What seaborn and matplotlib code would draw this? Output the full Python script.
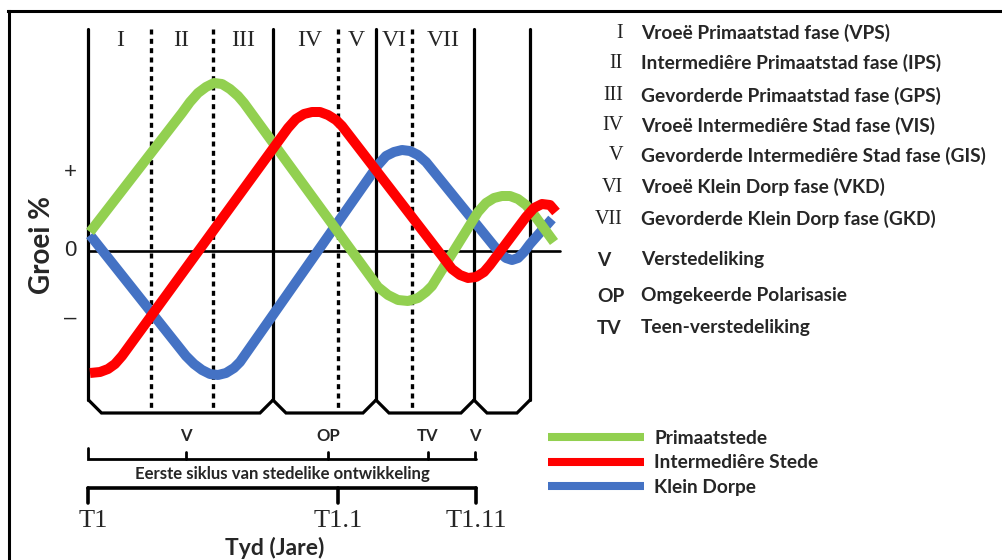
import numpy as np
import pandas as pd
import matplotlib
matplotlib.use("Agg")
import matplotlib.pyplot as plt
from matplotlib.lines import Line2D
import seaborn as sns

# ---------------- data ----------------
series_names = ["Primaatstede", "Intermediêre Stede", "Klein Dorpe"]
series_colors = ["#92D050", "#FF0000", "#4472C4"]

# time (arbitrary units) and growth (arbitrary units, 0 = no growth)
prim_t = [0, 92, 100, 108, 116, 124, 132, 140, 148, 154, 288, 298, 308, 318, 328, 336, 342,
          388, 396, 404, 412, 420, 428, 436, 442, 464]
prim_g = [19, 138, 149, 158, 164, 168, 167, 162, 155, 148, -36, -44, -49, -50, -47, -41, -35,
          39, 48, 53, 55, 55, 52, 46, 39, 9]

inter_t = [0, 10, 18, 25, 32, 198, 206, 214, 222, 230, 238, 246, 252, 362, 370, 378, 386, 394,
           400, 436, 444, 452, 460, 466]
inter_g = [-122, -121, -118, -113, -105, 123, 132, 137, 139, 139, 136, 131, 125, -18, -24, -27,
           -26, -21, -14, 34, 43, 47, 46, 39]

klein_t = [0, 96, 104, 112, 120, 128, 136, 144, 150, 288, 296, 304, 312, 320, 328, 336, 404,
           410, 416, 422, 428, 434, 440, 462]
klein_g = [16, -105, -113, -119, -123, -124, -122, -117, -111, 86, 95, 99, 101, 100, 96, 89, 5,
           -2, -7, -9, -7, -1, 7, 32]

phase_numerals = ["I", "II", "III", "IV", "V", "VI", "VII"]
phase_names = ["Vroeë Primaatstad fase (VPS)",
               "Intermediêre Primaatstad fase (IPS)",
               "Gevorderde Primaatstad fase (GPS)",
               "Vroeë Intermediêre Stad fase (VIS)",
               "Gevorderde Intermediêre Stad fase (GIS)",
               "Vroeë Klein Dorp fase (VKD)",
               "Gevorderde Klein Dorp fase (GKD)"]
process_abbr = ["V", "OP", "TV"]
process_names = ["Verstedeliking", "Omgekeerde Polarisasie", "Teen-verstedeliking"]
cycle_marks = ["V", "OP", "TV", "V"]
time_labels = ["T1", "T1.1", "T1.11"]
y_marks = ["+", "0", "–"]
cycle_text = "Eerste siklus van stedelike ontwikkeling"
x_title = "Tyd (Jare)"
y_title = "Groei %"

# ---------------- layout (positions) ----------------
solid_bounds = [-1.5, 183, 286, 384, 440]
dotted_bounds = [61, 123, 248, 322]
numeral_x = [30, 91, 153, 220, 266, 304, 353]
cycle_mark_x = [96, 238, 338, 385]
time_x = [3, 248, 386]
time_tick_x = [-1.5, 248, 386]
top_g, bev_g, bot_g, bev = 222, -149, -162, 13
row_g = [218, 188, 155, 125, 95, 64, 32]
proc_row_g = [-9, -45, -77]

sns.set_theme(style="white")
plt.rcParams['font.family'] = ['Lato', 'DejaVu Sans']

fig = plt.figure(figsize=(10.03, 5.6), dpi=100)
ax = fig.add_axes([0, 0, 1, 1])
ax.set_xlim(-90, 913)
ax.set_ylim(-309, 251)
ax.axis("off")

# frame
ax.plot([-82, 913], [240, 240], color="black", lw=2.2, solid_capstyle="projecting", clip_on=False)
ax.plot([-81.5, -81.5], [240, -309], color="black", lw=2.2, solid_capstyle="projecting", clip_on=False)

# phase structure
for x in solid_bounds:
    ax.plot([x, x], [top_g, bev_g], color="black", lw=2.3, zorder=2)
for a, b in zip(solid_bounds[:-1], solid_bounds[1:]):
    ax.plot([a, a + bev, b - bev, b], [bev_g, bot_g, bot_g, bev_g], color="black", lw=2.3,
            solid_joinstyle="miter", zorder=2)
for x in dotted_bounds:
    ax.plot([x, x], [top_g, bot_g], color="black", lw=2.4, dashes=(1.5, 1.3), zorder=2)
ax.plot([solid_bounds[0], 470], [0, 0], color="black", lw=1.9, zorder=2)

# curves
df = pd.concat([
    pd.DataFrame({"t": prim_t, "g": prim_g, "reeks": series_names[0]}),
    pd.DataFrame({"t": inter_t, "g": inter_g, "reeks": series_names[1]}),
    pd.DataFrame({"t": klein_t, "g": klein_g, "reeks": series_names[2]}),
])
pal = dict(zip(series_names, series_colors))
draw_order = [series_names[2], series_names[0], series_names[1]]
for k, name in enumerate(draw_order):
    sub = df[df["reeks"] == name]
    sns.lineplot(data=sub, x="t", y="g", color=pal[name], sort=False, estimator=None,
                 lw=7.2, ax=ax, legend=False, zorder=3 + k,
                 solid_joinstyle="round", solid_capstyle="butt")

# numerals at top
for x, s in zip(numeral_x, phase_numerals):
    ax.text(x, 211, s, ha="center", va="center", fontsize=17, family=["Liberation Serif"])

# y marks
for g, s in zip([79, 0, -67], y_marks):
    ax.text(-20, g, s, ha="center", va="center", fontsize=16, family=["Liberation Sans"])
ax.text(-48, 6, y_title, rotation=90, ha="center", va="center", fontsize=20, fontweight="bold")

# cycle marks and brackets
for x, s in zip(cycle_mark_x, cycle_marks):
    ax.text(x, -185, s, ha="center", va="center", fontsize=12, fontweight="bold")
ax.plot([-1.5, -1.5, 386], [-197, -208, -208], color="black", lw=2.0, solid_joinstyle="miter")
for x in cycle_mark_x:
    ax.plot([x, x], [-201, -208], color="black", lw=2.0)
ax.text(192, -223, cycle_text, ha="center", va="center", fontsize=12.1, fontweight="bold")
ax.plot([-1.5, 386], [-237, -237], color="black", lw=2.6)
for x in time_tick_x:
    ax.plot([x, x], [-237, -252], color="black", lw=2.6)
for x, s in zip(time_x, time_labels):
    ax.text(x, -270, s, ha="center", va="center", fontsize=19, family=["Liberation Serif"])
ax.text(185, -297, x_title, ha="center", va="center", fontsize=16.5, fontweight="bold")

# right-side phase legend
for g, num, name in zip(row_g, phase_numerals, phase_names):
    ax.text(533, g, num, ha="right", va="center", fontsize=14.5, family=["Liberation Serif"],
            color="#222222")
    ax.text(551, g, name, ha="left", va="center", fontsize=13.8, fontweight="bold")
for g, ab, name in zip(proc_row_g, process_abbr, process_names):
    ax.text(507, g, ab, ha="left", va="center", fontsize=13.8, fontweight="bold")
    ax.text(551, g, name, ha="left", va="center", fontsize=13.8, fontweight="bold")

# series legend
handles = [Line2D([], [], color=c, lw=5.8, solid_capstyle="butt") for c in series_colors]
ax.legend(handles, series_names, loc="upper left", bbox_to_anchor=(548 / 1003, 1 - 430 / 560),
          bbox_transform=fig.transFigure, frameon=False, handlelength=5.0, handletextpad=0.55,
          labelspacing=0.38, borderpad=0, borderaxespad=0,
          prop={"family": "Lato", "weight": "bold", "size": 13.8})

fig.savefig("out.png", dpi=100)
